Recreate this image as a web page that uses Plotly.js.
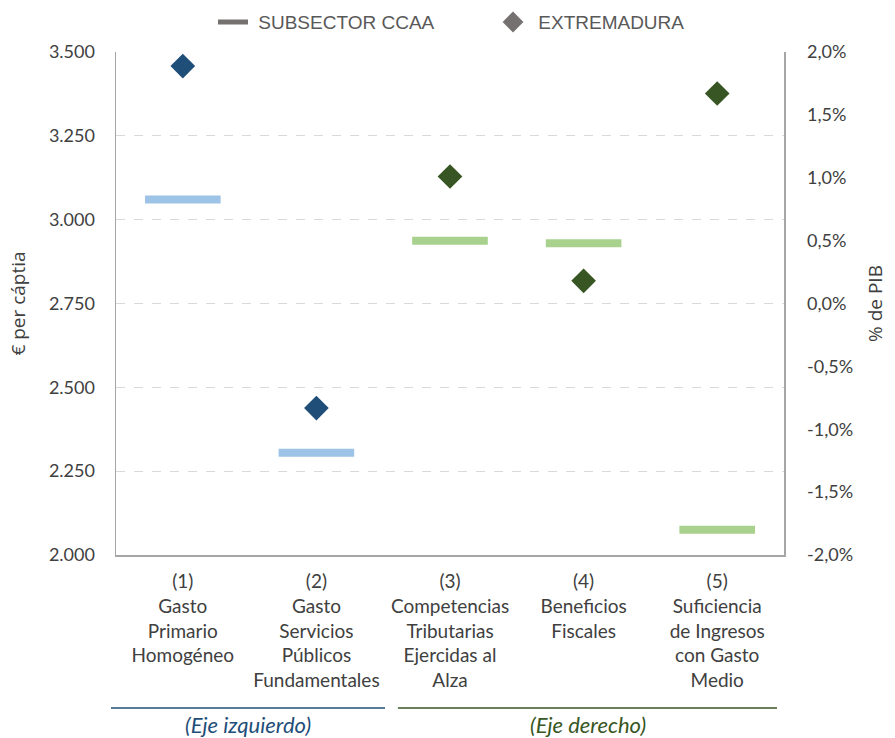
<!DOCTYPE html>
<html>
<head>
<meta charset="utf-8">
<script src="https://cdn.plot.ly/plotly-3.0.1.min.js"></script>
<style>html,body{margin:0;padding:0;background:#fff;}#chart{width:895px;height:738px;}</style>
</head>
<body>
<div id="chart"></div>
<script>
// Categories (x axis)
const categories = [
  "(1)<br>Gasto<br>Primario<br>Homogéneo",
  "(2)<br>Gasto<br>Servicios<br>Públicos<br>Fundamentales",
  "(3)<br>Competencias<br>Tributarias<br>Ejercidas al<br>Alza",
  "(4)<br>Beneficios<br>Fiscales<br> <br> ",
  "(5)<br>Suficiencia<br>de Ingresos<br>con Gasto<br>Medio"
];
// Left axis (€ per cápita): indicators 1-2
const leftCats = [categories[0], categories[1]];
const ccaaLeft = [3060, 2305];
const extLeft = [3458, 2438];
// Right axis (% de PIB): indicators 3-5
const rightCats = [categories[2], categories[3], categories[4]];
const ccaaRight = [0.0050, 0.0048, -0.0180];
const extRight = [0.0101, 0.0018, 0.0167];
// Tick labels
const leftTickVals = [2000, 2250, 2500, 2750, 3000, 3250, 3500];
const leftTickText = ["2.000", "2.250", "2.500", "2.750", "3.000", "3.250", "3.500"];
const rightTickVals = [-0.02, -0.015, -0.01, -0.005, 0, 0.005, 0.01, 0.015, 0.02];
const rightTickText = ["-2,0%", "-1,5%", "-1,0%", "-0,5%", "0,0%", "0,5%", "1,0%", "1,5%", "2,0%"];

const FONT = "Lato, 'Open Sans', sans-serif";
const TXT = "#404040";

const traces = [
  {x: leftCats, y: ccaaLeft, type: "scatter", mode: "markers", showlegend: false, hoverinfo: "y",
   marker: {symbol: "line-ew", size: 54, line: {width: 8, color: "#9DC3E6"}}},
  {x: leftCats, y: extLeft, type: "scatter", mode: "markers", showlegend: false,
   marker: {symbol: "diamond", size: 19, color: "#1F4E79"}},
  {x: rightCats, y: ccaaRight, yaxis: "y2", type: "scatter", mode: "markers", showlegend: false,
   marker: {symbol: "line-ew", size: 54, line: {width: 8, color: "#A9D18E"}}},
  {x: rightCats, y: extRight, yaxis: "y2", type: "scatter", mode: "markers", showlegend: false,
   marker: {symbol: "diamond", size: 19, color: "#375623"}},
  // legend entries
  {x: [null], y: [null], type: "scatter", mode: "lines", name: "\u00a0SUBSECTOR CCAA",
   line: {color: "#767171", width: 5}},
  {x: [null], y: [null], type: "scatter", mode: "markers", name: "\u00a0EXTREMADURA",
   marker: {symbol: "diamond", size: 18, color: "#767171"}}
];

const layout = {
  width: 895, height: 738,
  margin: {l: 116, r: 111, t: 52, b: 183},
  paper_bgcolor: "#fff", plot_bgcolor: "#fff",
  font: {family: FONT, color: TXT, size: 18},
  showlegend: true,
  legend: {orientation: "h", xref: "container", yref: "container", x: 0.238, xanchor: "left",
    y: 0.97, yanchor: "middle",
    font: {family: "'Liberation Sans', Arial, sans-serif", size: 19, color: "#595959"},
    itemwidth: 30, entrywidth: 235, entrywidthmode: "pixels"},
  xaxis: {type: "category", categoryorder: "array", categoryarray: categories,
    range: [-0.5, 4.5], showgrid: false, zeroline: false,
    showline: true, linecolor: "#A6A6A6", linewidth: 1.5,
    ticks: "outside", ticklen: 9, tickcolor: "rgba(0,0,0,0)",
    tickfont: {family: FONT, size: 19, color: TXT}},
  yaxis: {range: [2000, 3500], tickvals: leftTickVals, ticktext: leftTickText,
    showgrid: true, gridcolor: "#D9D9D9", griddash: "dash", gridwidth: 1.2,
    zeroline: false, showline: true, linecolor: "#A6A6A6", linewidth: 1.5,
    ticks: "outside", ticklen: 16, tickcolor: "rgba(0,0,0,0)",
    tickfont: {family: FONT, size: 18, color: TXT},
    title: {text: "€ per cáptia", standoff: 18,
      font: {family: "'Open Sans', 'Noto Sans', sans-serif", size: 19, color: TXT}}},
  yaxis2: {overlaying: "y", side: "right", range: [-0.02, 0.02],
    tickvals: rightTickVals, ticktext: rightTickText,
    showgrid: false, zeroline: false, showline: true, linecolor: "#A6A6A6", linewidth: 1.5,
    ticks: "outside", ticklen: 18, tickcolor: "rgba(0,0,0,0)",
    tickfont: {family: FONT, size: 18, color: TXT},
    title: {text: "% de PIB", standoff: 16,
      font: {family: "'Open Sans', 'Noto Sans', sans-serif", size: 19, color: TXT}}},
  shapes: [
    {type: "line", xref: "paper", yref: "paper", x0: -0.0075, x1: 0.4027, y0: -0.304, y1: -0.304,
     line: {color: "#1F4E79", width: 1.5}},
    {type: "line", xref: "paper", yref: "paper", x0: 0.422, x1: 0.9895, y0: -0.304, y1: -0.304,
     line: {color: "#375623", width: 1.5}}
  ],
  annotations: [
    {xref: "paper", yref: "paper", x: 0.1976, y: -0.336, xanchor: "center", yanchor: "middle",
     showarrow: false, text: "<i>(Eje izquierdo)</i>", font: {family: FONT, size: 22, color: "#1F4E79"}},
    {xref: "paper", yref: "paper", x: 0.7066, y: -0.336, xanchor: "center", yanchor: "middle",
     showarrow: false, text: "<i>(Eje derecho)</i>", font: {family: FONT, size: 22, color: "#375623"}}
  ]
};

Plotly.newPlot("chart", traces, layout, {displayModeBar: false, staticPlot: true});
</script>
</body>
</html>
